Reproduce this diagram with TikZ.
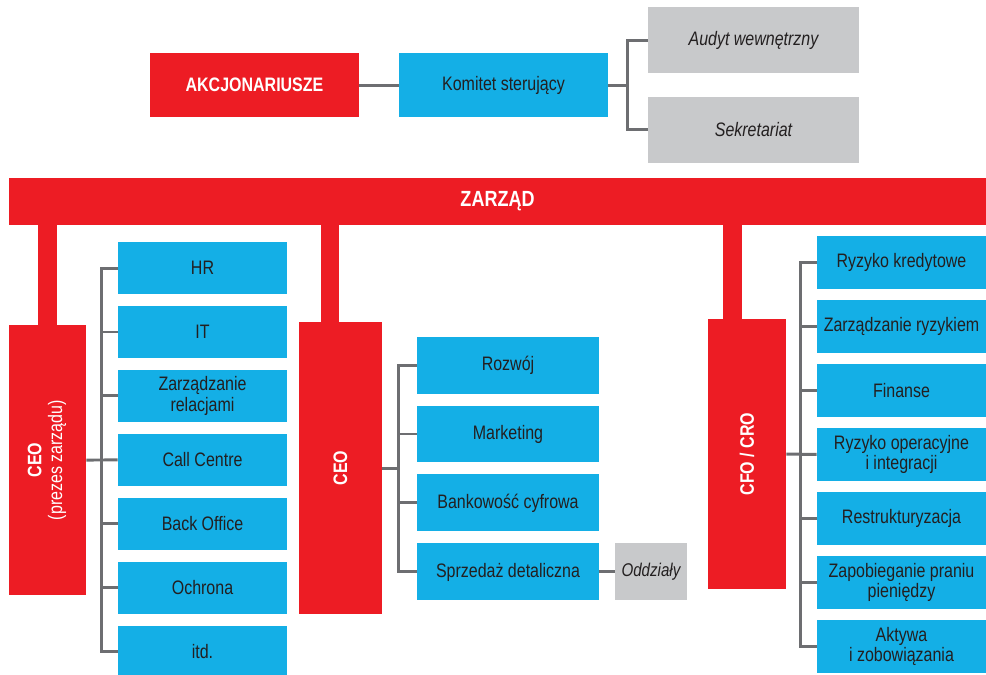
\documentclass[tikz,border=0pt]{standalone}
\usepackage{graphicx}
\usepackage{fontspec}
\setmainfont{Liberation Sans}[FakeStretch=0.82]
\usetikzlibrary{positioning}
\definecolor{zred}{HTML}{ED1C24}
\definecolor{zblue}{HTML}{14AFE6}
\definecolor{zgrey}{HTML}{C8C9CB}
\definecolor{zline}{HTML}{6D6E71}
\definecolor{ztext}{HTML}{231F20}

\begin{document}
\begin{tikzpicture}[x=0.02cm, y=-0.02cm, node distance=1.28cm, on grid,
    every node/.style={inner sep=0pt, align=center, font=\fontsize{11.1}{11.8}\selectfont},
    redbox/.style={fill=zred, text=white, font=\fontsize{11.1}{11.8}\selectfont\bfseries},
    unit/.style={fill=zblue, text=ztext, minimum width=3.38cm, minimum height=1.04cm},
    aux/.style={fill=zgrey, text=ztext, font=\fontsize{11.1}{11.8}\selectfont\itshape},
    link/.style={draw=zline, line width=1.7pt},
    stem/.style={draw=zred, line width=0.37cm}]
    \useasboundingbox (0,0) rectangle (986,674);
    \node[redbox, minimum width=4.18cm, minimum height=1.28cm] (akcj) at (254.5,85) {AKCJONARIUSZE};
    \node[unit, minimum width=4.18cm, minimum height=1.28cm, right=4.98cm of akcj] (komitet) {Komitet sterujący};
    \node[aux, minimum width=4.22cm, minimum height=1.32cm] (audyt) at (753.5,40) {Audyt wewnętrzny};
    \node[aux, minimum width=4.22cm, minimum height=1.32cm, below=1.8cm of audyt] (sekr) {Sekretariat};
    \node[redbox, minimum width=19.54cm, minimum height=0.94cm, font=\fontsize{12.5}{14}\selectfont\bfseries] (zarzad) at (497.5,201.5) {ZARZĄD};

    \node[redbox, minimum width=1.54cm, minimum height=5.4cm] (ceo1) at (47.5,460)
      {\rotatebox{90}{\begin{tabular}{@{}c@{}}CEO\\\mdseries(prezes zarządu)\end{tabular}}};
    \node[redbox, minimum width=1.66cm, minimum height=5.84cm] (ceo2) at (340.5,468) {\rotatebox{90}{CEO}};
    \node[redbox, minimum width=1.56cm, minimum height=5.4cm] (cfo) at (747,454) {\rotatebox{90}{CFO / CRO}};

    \node[unit] (hr) at (202.5,268) {HR};
    \node[unit, below=of hr] (it) {IT};
    \node[unit, below=of it] (relacje) {Zarządzanie\\relacjami};
    \node[unit, below=of relacje] (callc) {Call Centre};
    \node[unit, below=of callc] (backo) {Back Office};
    \node[unit, below=of backo] (ochrona) {Ochrona};
    \node[unit, below=of ochrona] (itd) {itd.};

    \node[unit, minimum width=3.64cm, minimum height=1.14cm] (rozwoj) at (508,365) {Rozwój};
    \node[unit, minimum width=3.64cm, minimum height=1.14cm, below=1.38cm of rozwoj] (marketing) {Marketing};
    \node[unit, minimum width=3.64cm, minimum height=1.14cm, below=1.38cm of marketing] (cyfrowa) {Bankowość cyfrowa};
    \node[unit, minimum width=3.64cm, minimum height=1.14cm, below=1.38cm of cyfrowa] (sprzedaz) {Sprzedaż detaliczna};
    \node[aux, minimum width=1.44cm, minimum height=1.14cm, right=2.86cm of sprzedaz,
      font=\fontsize{10.5}{11}\selectfont\itshape] (oddzialy) {Oddziały};

    \node[unit, minimum height=1.06cm] (kredyt) at (901.5,262.5) {Ryzyko kredytowe};
    \node[unit, minimum height=1.06cm, below=of kredyt] (ryzyko) {Zarządzanie ryzykiem};
    \node[unit, minimum height=1.06cm, below=of ryzyko] (finanse) {Finanse};
    \node[unit, minimum height=1.06cm, below=of finanse] (operac) {Ryzyko operacyjne\\i integracji};
    \node[unit, minimum height=1.06cm, below=of operac] (restr) {Restrukturyzacja};
    \node[unit, minimum height=1.06cm, below=of restr] (pranie) {Zapobieganie praniu\\pieniędzy};
    \node[unit, minimum height=1.06cm, below=of pranie] (aktywa) {Aktywa\\i zobowiązania};

    \coordinate (s1) at (ceo1.north);
    \coordinate (s2) at ([xshift=-0.21cm]ceo2.north);
    \coordinate (s3) at ([xshift=-0.29cm]cfo.north);
    \draw[stem] ([yshift=-2pt]s1) -- (s1 |- zarzad.center);
    \draw[stem] ([yshift=-2pt]s2) -- (s2 |- zarzad.center);
    \draw[stem] ([yshift=-2pt]s3) -- (s3 |- zarzad.center);

    \draw[link] (akcj) -- (komitet);
    \draw[link] (komitet.east) -- ++(0.4cm,0);
    \draw[link] (audyt.west) -- ++(-0.4cm,0) |- (sekr.west);

    \draw[link] (hr.west) -- ++(-0.32cm,0) |- (itd.west);
    \draw[link] (it.west) -- ++(-0.32cm,0);
    \draw[link] (relacje.west) -- ++(-0.32cm,0);
    \draw[link] (backo.west) -- ++(-0.32cm,0);
    \draw[link] (ochrona.west) -- ++(-0.32cm,0);
    \draw[link] (ceo1.east) -- (callc.west);

    \draw[link] (rozwoj.west) -- ++(-0.36cm,0) |- (sprzedaz.west);
    \draw[link] (marketing.west) -- ++(-0.36cm,0);
    \draw[link] (cyfrowa.west) -- ++(-0.36cm,0);
    \draw[link] (ceo2.east) -- ++(0.34cm,0);
    \draw[link] (sprzedaz) -- (oddzialy);

    \draw[link] (kredyt.west) -- ++(-0.32cm,0) |- (aktywa.west);
    \draw[link] (ryzyko.west) -- ++(-0.32cm,0);
    \draw[link] (finanse.west) -- ++(-0.32cm,0);
    \draw[link] (restr.west) -- ++(-0.32cm,0);
    \draw[link] (pranie.west) -- ++(-0.32cm,0);
    \draw[link] (cfo.east) -- (operac.west);
\end{tikzpicture}
\end{document}
